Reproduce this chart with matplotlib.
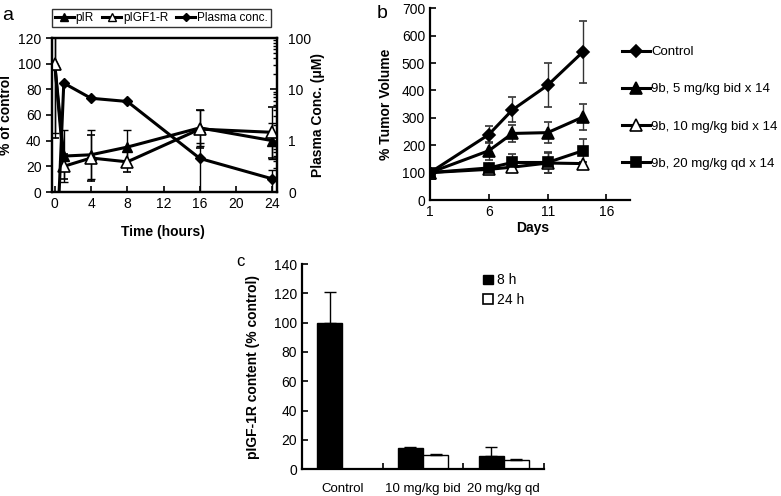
import matplotlib
matplotlib.use('Agg')
import matplotlib.pyplot as plt
import numpy as np
from matplotlib.ticker import LogLocator, NullFormatter, FixedLocator
from matplotlib.patches import Patch
from matplotlib.lines import Line2D

plt.rcParams['font.family'] = ['Liberation Sans', 'DejaVu Sans']
plt.rcParams['font.size'] = 10

# panel a
time_h = [0, 1, 4, 8, 16, 24]
pir = [100, 28, 29, 35, 50, 40]
pir_err = [54, 20, 19, 13, 14, 14]
pigf = [100, 20, 26.5, 23.5, 49, 46.5]
pigf_err = [58, 10, 18, 8, 15, 20]
plasma = [0.001, 13.2, 6.7, 5.8, 0.45, 0.18]
plasma_err = [0, 0, 0, 0, 0.44, 0.09]

# panel b
days = [1, 6, 8, 11, 14]
tumor_labels = ['Control', '9b, 5 mg/kg bid x 14', '9b, 10 mg/kg bid x 14', '9b, 20 mg/kg qd x 14']
ctrl = [100, 239, 329, 419, 541]
ctrl_err = [0, 30, 46, 81, 114]
dose5 = [100, 180, 243, 246, 303]
dose5_err = [0, 33, 32, 37, 48]
dose10 = [100, 112, 120, 135, 133]
dose10_err = [0, 8, 10, 37, 5]
dose20 = [100, 117, 137, 137, 180]
dose20_err = [0, 10, 31, 40, 41]

# panel c
groups = ['Control', '10 mg/kg bid', '20 mg/kg qd']
h8 = [100, 14.7, 9.2]
h8_err = [21, 0.8, 6.3]
h24 = [0, 9.8, 6.4]
h24_err = [0, 0.7, 0.3]

fig = plt.figure(figsize=(7.81, 4.96), dpi=100)
W, H = 781, 496

def box(l, r, t, b):
    return [l / W, (H - b) / H, (r - l) / W, (b - t) / H]

lw = 2.2
ekw = dict(ecolor='black', elinewidth=1, capsize=3, capthick=1)

# ---- a ----
ax = fig.add_axes(box(52, 277, 38, 192))
ax2 = ax.twinx()
ax.errorbar(time_h, pir, yerr=pir_err, color='black', lw=lw, marker='^', ms=7,
            mfc='black', mec='black', **ekw)
ax.errorbar(time_h, pigf, yerr=pigf_err, color='black', lw=lw, marker='^', ms=8,
            mfc='white', mec='black', mew=1.2, zorder=5, **ekw)
ax2.errorbar(time_h, plasma, yerr=plasma_err, color='black', lw=lw, marker='D', ms=5.5,
             mfc='black', mec='black', **ekw)
ax.set_xlim(-0.3, 24.5)
ax.set_ylim(0, 120)
ax.set_yticks(range(0, 121, 20))
ax.set_xticks(range(0, 25, 4))
ax2.set_yscale('log')
ax2.set_ylim(0.1, 100)
ax2.set_yticks([0.1, 1, 10, 100])
ax2.set_yticklabels(['0', '1', '10', '100'])
ax2.yaxis.set_minor_locator(LogLocator(base=10, subs=np.arange(2, 10)))
ax2.yaxis.set_minor_formatter(NullFormatter())
ax.tick_params(axis='x', direction='in', length=4, width=1.2)
ax.tick_params(axis='y', direction='out', length=4, width=1.2)
ax2.tick_params(axis='y', which='major', direction='in', length=5, width=1.2, pad=8)
ax2.tick_params(axis='y', which='minor', direction='in', length=3, width=1)
for sp in ax.spines.values():
    sp.set_linewidth(1.6)
for sp in ax2.spines.values():
    sp.set_linewidth(1.6)
ax.set_xlabel('Time (hours)', fontweight='bold')
ax.xaxis.set_label_coords(0.491, -0.214)
ax.set_ylabel('% of control', fontweight='bold')
ax.yaxis.set_label_coords(-0.173, 0.5)
ax2.set_ylabel('Plasma Conc. (\u03bcM)', fontweight='bold')
ax2.yaxis.set_label_coords(1.153, 0.5)
ha = [Line2D([], [], color='black', lw=lw, marker='^', ms=6, mfc='black', mec='black'),
      Line2D([], [], color='black', lw=lw, marker='^', ms=6, mfc='white', mec='black'),
      Line2D([], [], color='black', lw=lw, marker='D', ms=4.5, mfc='black', mec='black')]
leg = ax.legend(ha, ['pIR', 'pIGF1-R', 'Plasma conc.'], loc='lower left',
                bbox_to_anchor=(0.0, 1.07), ncol=3, fontsize=8.5, frameon=True,
                fancybox=False, edgecolor='black', handlelength=1.6, handletextpad=0.15,
                columnspacing=0.7, borderpad=0.25, borderaxespad=0)
leg.get_frame().set_linewidth(1)
fig.text(2 / W, 1 - 16 / H, 'a', fontsize=14, va='center')

# ---- b ----
bx = fig.add_axes(box(430, 630, 8.3, 200))
series = [(ctrl, ctrl_err, 'D', 'black', 6), (dose5, dose5_err, '^', 'black', 8),
          (dose10, dose10_err, '^', 'white', 8), (dose20, dose20_err, 's', 'black', 7)]
handles = []
for vals, errs, mk, fc, ms in series:
    bx.errorbar(days, vals, yerr=errs, color='black', lw=lw, marker=mk, ms=ms, mfc=fc,
                mec='black', mew=1.2, ecolor='#333333', elinewidth=1,
                capsize=3, capthick=1)
    handles.append(Line2D([], [], color='black', lw=lw, marker=mk, ms=ms, mfc=fc,
                          mec='black', mew=1.2))
bx.set_xlim(1, 18)
bx.set_ylim(0, 700)
bx.set_xticks([1, 6, 11, 16])
bx.set_yticks(range(0, 701, 100))
bx.spines['top'].set_visible(False)
bx.spines['right'].set_visible(False)
for sp in ['left', 'bottom']:
    bx.spines[sp].set_linewidth(1.6)
bx.tick_params(direction='in', length=4, width=1.2)
bx.set_xlabel('Days', fontweight='bold')
bx.xaxis.set_label_coords(0.515, -0.11)
bx.set_ylabel('% Tumor Volume', fontweight='bold')
bx.yaxis.set_label_coords(-0.185, 0.5)
bx.legend(handles, tumor_labels, loc='center left', bbox_to_anchor=(0.96, 0.48),
          frameon=False, fontsize=9.5, handlelength=2.1, handletextpad=0.1,
          labelspacing=1.9, borderpad=0, borderaxespad=0)
fig.text(377 / W, 1 - 13 / H, 'b', fontsize=14, va='center')

# ---- c ----
cx = fig.add_axes(box(301.7, 544.3, 264, 469.3))
x = np.arange(len(groups))
w = 0.31
cx.bar(x - w / 2, h8, width=w, color='black', edgecolor='black', lw=1)
cx.bar(x + w / 2, h24, width=w, color='white', edgecolor='black', lw=1)
cx.errorbar(x - w / 2, h8, yerr=[np.zeros(3), h8_err], fmt='none', ecolor='black',
            elinewidth=1, capsize=4, capthick=1)
cx.errorbar(x + w / 2, h24, yerr=[np.zeros(3), h24_err], fmt='none', ecolor='black',
            elinewidth=1, capsize=4, capthick=1)
cx.set_xlim(-0.5, 2.5)
cx.set_ylim(0, 140)
cx.set_yticks(range(0, 141, 20))
cx.set_xticks(x)
cx.set_xticklabels(groups, fontsize=9.5)
cx.xaxis.set_minor_locator(FixedLocator([0.5, 1.5, 2.5]))
cx.tick_params(axis='x', which='major', length=0, pad=10)
cx.tick_params(axis='x', which='minor', direction='in', length=4, width=1.2)
cx.tick_params(axis='y', direction='in', length=4, width=1.2)
cx.spines['top'].set_visible(False)
cx.spines['right'].set_visible(False)
for sp in ['left', 'bottom']:
    cx.spines[sp].set_linewidth(1.6)
cx.set_ylabel('pIGF-1R content (% control)', fontweight='bold')
cx.yaxis.set_label_coords(-0.172, 0.5)
cx.legend(handles=[Patch(facecolor='black', edgecolor='black', label='8 h'),
                   Patch(facecolor='white', edgecolor='black', lw=1.2, label='24 h')],
          loc='upper left', bbox_to_anchor=(0.747, 0.955), frameon=False, fontsize=10,
          handlelength=0.7, handleheight=0.7, handletextpad=0.3, labelspacing=0.4,
          borderpad=0, borderaxespad=0)
fig.text(236 / W, 1 - 261 / H, 'c', fontsize=12, va='center')

fig.savefig('out.png', dpi=100)
